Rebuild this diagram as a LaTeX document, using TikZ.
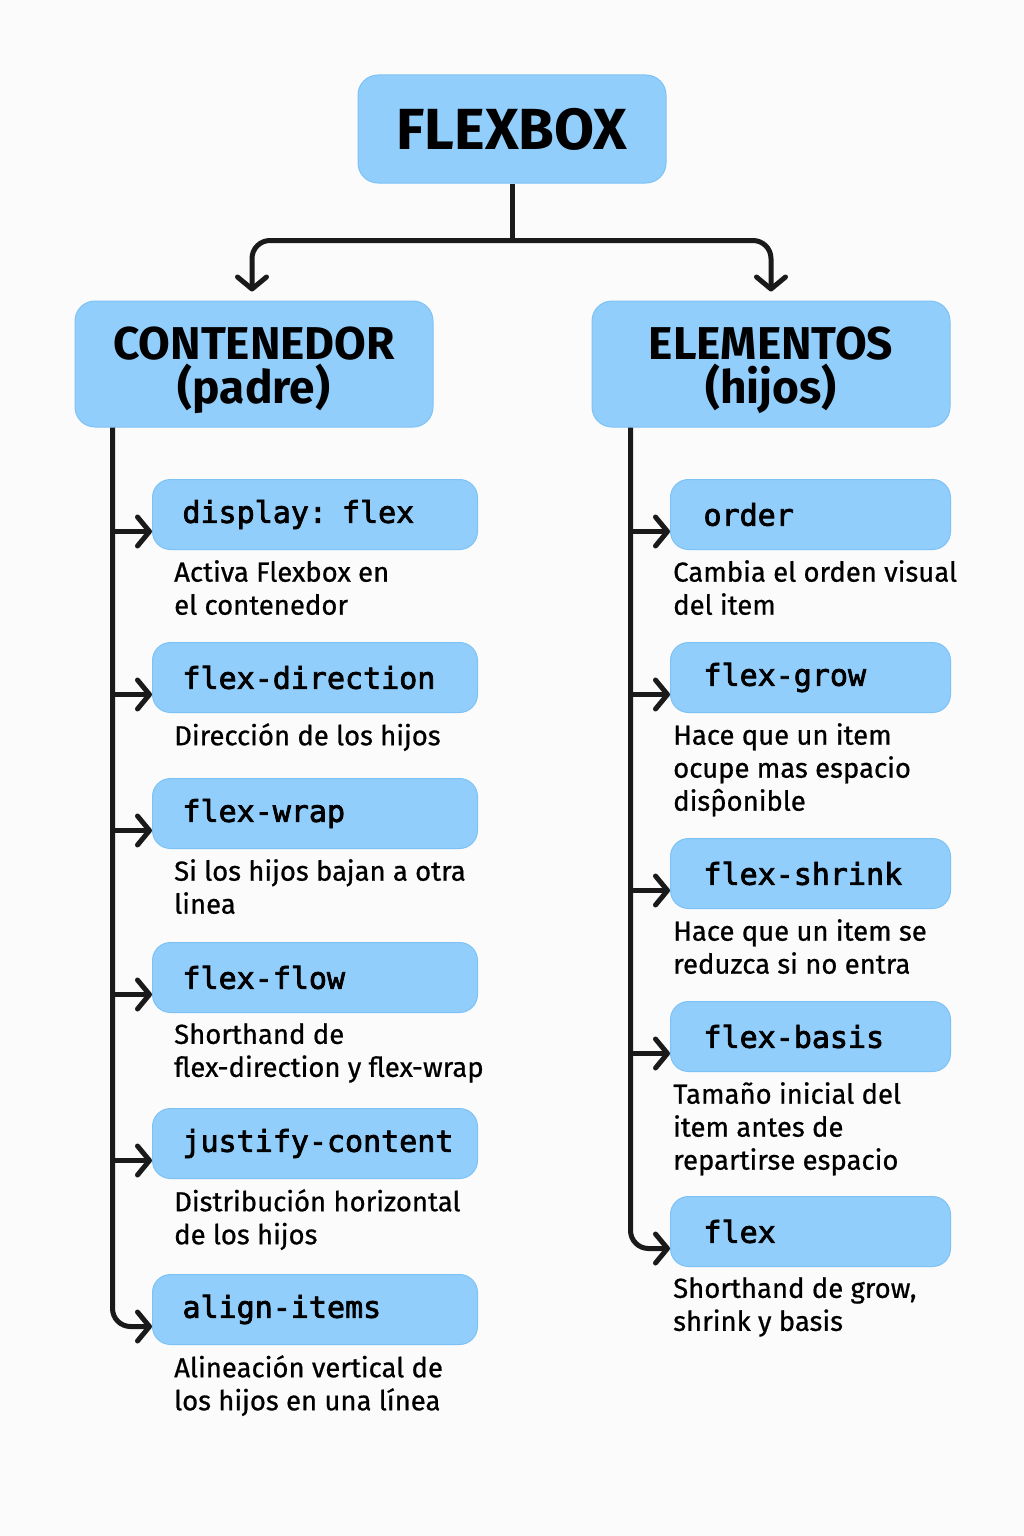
\documentclass[tikz,border=0pt]{standalone}
\usepackage{fontspec}
\setmainfont{Fira Sans}
\newfontfamily\descfont{Fira Sans}[FakeBold=0.7]
\newfontfamily\codefont{DejaVu Sans Mono}[FakeBold=2.5]
\usetikzlibrary{arrows.meta}

\definecolor{boxblue}{HTML}{92CEFB}
\definecolor{boxedge}{HTML}{7CC2F5}
\definecolor{ink}{HTML}{1A1A1A}
\definecolor{paper}{HTML}{FBFBFB}

\tikzset{
    mainbox/.style={fill=boxblue, draw=boxedge, line width=1pt, rounded corners=20pt, align=center, text=black},
    leftprop/.style={fill=boxblue, draw=boxedge, line width=1pt, rounded corners=18pt, minimum width=325pt, minimum height=70pt, inner xsep=30pt, text width=265pt, align=left, font=\codefont\fontsize{30}{32}\selectfont},
    rightprop/.style={leftprop, minimum width=280pt, inner xsep=33pt, text width=214pt},
    desc/.style={inner sep=0pt, align=left, font=\descfont\fontsize{27.5}{33}\selectfont},
    line/.style={draw=ink, line width=5pt},
    conn/.style={line, rounded corners=18pt, -{Straight Barb[length=12pt, width=29pt, round]}}
}

% property box with its description below
\newcommand{\propitem}[7]{
    % #1,#2 top left corner, #3 name, #4 style, #5 property, #6 description, #7 xshift of description
    \node[#4, anchor=north west] (#3) at (#1,#2) {\mbox{#5}};
    \node[desc, anchor=north west] (#3-desc) at ([xshift=#7, yshift=-10pt]#3.south west) {#6};
}

\begin{document}
\begin{tikzpicture}[x=1pt, y=-1pt]

    \fill[paper] (0,0) rectangle (1024,1536);

    % headers
    \node[mainbox, minimum width=308pt, minimum height=108pt, font=\fontsize{58}{60}\selectfont\bfseries] (flexbox) at (512,129) {FLEXBOX};
    \node[mainbox, minimum width=358pt, minimum height=126pt, font=\fontsize{46}{44}\selectfont\bfseries] (cont) at (254,364) {\rule{0pt}{46pt}CONTENEDOR\\(padre)};
    \node[mainbox, minimum width=358pt, minimum height=126pt, font=\fontsize{46}{44}\selectfont\bfseries] (elem) at (771,364) {\rule{0pt}{46pt}ELEMENTOS\\(hijos)};

    \draw[line] (flexbox.south) -- ++(0,57) coordinate (split);
    \draw[conn] (split) -| ([xshift=-2pt, yshift=9pt]cont.north);
    \draw[conn] (split) -| ([yshift=9pt]elem.north);

    % contenedor (padre)
    \propitem{152}{479}{disp}{leftprop}{display: flex}{Activa Flexbox en\\el contenedor}{22pt}
    \propitem{152}{642}{dir}{leftprop}{flex-direction}{Dirección de los hijos}{22pt}
    \propitem{152}{778}{wrap}{leftprop}{flex-wrap}{Si los hijos bajan a otra\\linea}{22pt}
    \propitem{152}{942}{flow}{leftprop}{flex-flow}{Shorthand de\\flex-direction y flex-wrap}{22pt}
    \propitem{152}{1108}{just}{leftprop}{justify-content}{Distribución horizontal\\de los hijos}{22pt}
    \propitem{152}{1274}{align}{leftprop}{align-items}{Alineación vertical de\\los hijos en una línea}{22pt}

    \coordinate (ltrunk) at ([xshift=38pt]cont.south west);
    \draw[conn] (ltrunk) |- ([yshift=-17pt]align.west);
    \draw[conn] ([xshift=-39pt, yshift=-17pt]disp.west) -- ([yshift=-17pt]disp.west);
    \draw[conn] ([xshift=-39pt, yshift=-17pt]dir.west) -- ([yshift=-17pt]dir.west);
    \draw[conn] ([xshift=-39pt, yshift=-17pt]wrap.west) -- ([yshift=-17pt]wrap.west);
    \draw[conn] ([xshift=-39pt, yshift=-17pt]flow.west) -- ([yshift=-17pt]flow.west);
    \draw[conn] ([xshift=-39pt, yshift=-17pt]just.west) -- ([yshift=-17pt]just.west);

    % elementos (hijos)
    \propitem{670}{479}{order}{rightprop}{order}{Cambia el orden visual\\del item}{3pt}
    \propitem{670}{642}{grow}{rightprop}{flex-grow}{Hace que un item\\ocupe mas espacio\\disp̂onible}{3pt}
    \propitem{670}{838}{shrink}{rightprop}{flex-shrink}{Hace que un item se\\reduzca si no entra}{3pt}
    \propitem{670}{1001}{basis}{rightprop}{flex-basis}{Tamaño inicial del\\item antes de\\repartirse espacio}{3pt}
    \propitem{670}{1196}{flex}{rightprop}{flex}{Shorthand de grow,\\shrink y basis}{3pt}

    \coordinate (rtrunk) at ([xshift=39pt]elem.south west);
    \draw[conn] (rtrunk) |- ([yshift=-17pt]flex.west);
    \draw[conn] ([xshift=-39pt, yshift=-17pt]order.west) -- ([yshift=-17pt]order.west);
    \draw[conn] ([xshift=-39pt, yshift=-17pt]grow.west) -- ([yshift=-17pt]grow.west);
    \draw[conn] ([xshift=-39pt, yshift=-17pt]shrink.west) -- ([yshift=-17pt]shrink.west);
    \draw[conn] ([xshift=-39pt, yshift=-17pt]basis.west) -- ([yshift=-17pt]basis.west);

\end{tikzpicture}
\end{document}
